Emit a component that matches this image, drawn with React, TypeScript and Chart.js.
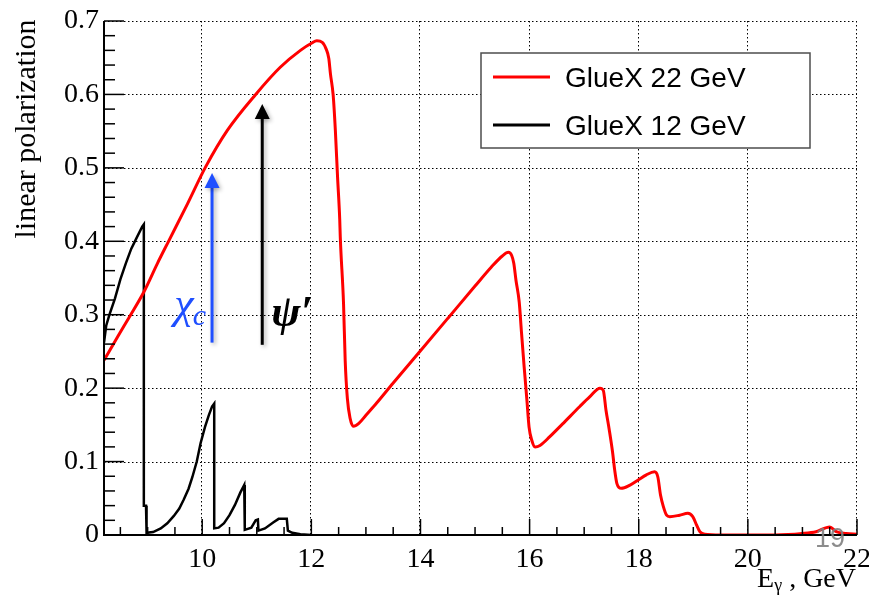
import React, { useEffect, useRef } from 'react';
import { Chart, registerables } from 'chart.js';

Chart.register(...registerables);

// ---- data ----
const seriesLabels = ['GlueX 22 GeV', 'GlueX 12 GeV'];
const seriesColors = ['#ff0000', '#000000'];

const gluex22Energy = [
  8.2, 8.45, 8.69, 8.93, 9.18, 9.39, 9.73, 10.06, 10.46, 10.98, 11.43, 11.8, 12.01, 12.1, 12.2,
  12.27, 12.32, 12.35, 12.4, 12.44, 12.48, 12.52, 12.53, 12.59, 12.62, 12.66, 12.71, 12.77, 12.87,
  13.0, 13.2, 13.5, 14.0, 14.5, 15.0, 15.3, 15.5, 15.61, 15.67, 15.71, 15.75, 15.81, 15.85,
  15.9, 15.95, 15.99, 16.04, 16.1, 16.19, 16.37, 16.6, 16.92, 17.1, 17.29, 17.35, 17.4, 17.46, 17.52,
  17.56, 17.6, 17.68, 17.84, 17.99, 18.14, 18.29, 18.35, 18.4, 18.45, 18.51, 18.57, 18.75, 18.9,
  18.99, 19.06, 19.12, 19.21, 19.5, 20.5, 21.0, 21.25, 21.5, 21.62, 21.8, 22.0,
];
const gluex22Pol = [
  0.238, 0.27, 0.3, 0.331, 0.37, 0.401, 0.451, 0.501, 0.551, 0.6, 0.637, 0.66, 0.67, 0.673, 0.671,
  0.662, 0.649, 0.628, 0.599, 0.551, 0.488, 0.43, 0.406, 0.315, 0.238, 0.186, 0.159, 0.148, 0.152,
  0.163, 0.18, 0.207, 0.251, 0.295, 0.339, 0.365, 0.38, 0.385, 0.381, 0.37, 0.347, 0.317, 0.277,
  0.229, 0.184, 0.147, 0.129, 0.12, 0.122, 0.134, 0.151, 0.175, 0.188, 0.2, 0.197, 0.17, 0.143, 0.113,
  0.088, 0.07, 0.0635, 0.068, 0.075, 0.082, 0.086, 0.079, 0.054, 0.039, 0.027, 0.025, 0.027, 0.0295,
  0.025, 0.0136, 0.0045, 0.001, 0.0, 0.0, 0.002, 0.0045, 0.011, 0.0045, 0.002, 0.001,
];

const gluex12Energy = [
  8.2, 8.24, 8.3, 8.4, 8.5, 8.6, 8.7, 8.8, 8.9, 8.93, 8.93, 8.97, 8.98, 9.1, 9.24, 9.36, 9.48, 9.58,
  9.66, 9.75, 9.82, 9.9, 9.97, 10.05, 10.12, 10.18, 10.22, 10.22, 10.3, 10.4, 10.5, 10.6, 10.7,
  10.77, 10.78, 10.9, 10.98, 11.02, 11.03, 11.15, 11.3, 11.4, 11.55, 11.57, 11.65, 11.8, 12.0,
];
const gluex12Pol = [
  0.262, 0.285, 0.3, 0.322, 0.348, 0.37, 0.39, 0.405, 0.42, 0.423, 0.04, 0.04, 0.003, 0.004, 0.009,
  0.016, 0.026, 0.036, 0.048, 0.063, 0.079, 0.1, 0.125, 0.147, 0.163, 0.175, 0.179, 0.009, 0.01,
  0.016, 0.027, 0.041, 0.058, 0.068, 0.007, 0.01, 0.02, 0.021, 0.006, 0.009, 0.017, 0.022, 0.022,
  0.006, 0.003, 0.001, 0.0,
];

const xTickValues = [10, 12, 14, 16, 18, 20, 22];
const yTickValues = [0, 0.1, 0.2, 0.3, 0.4, 0.5, 0.6, 0.7];
const xMinorStep = 0.5;
const yMinorStep = 0.02;
const xMin = 8.2;
const xMax = 22;
const yMin = 0;
const yMax = 0.7;

// threshold arrows: energy, start and tip polarization
const arrowLabels = ['χc', 'ψ′'];
const arrowEnergy = [10.18, 11.1];
const arrowFrom = [0.262, 0.259];
const arrowTo = [0.493, 0.587];
const arrowColors = ['#1f4fff', '#000000'];

const yTitle = 'linear polarization';
const pageNumber = '19';

const SERIF = "'Liberation Serif', 'Times New Roman', serif";
const SANS = "'Liberation Sans', Arial, sans-serif";

function fmtY(v: number) {
  return v === 0 ? '0' : v.toFixed(1);
}

const decorPlugin = {
  id: 'decor',
  beforeDatasetsDraw(chart: any) {
    const { ctx, chartArea: ca, scales } = chart;
    const x = scales.x;
    const y = scales.y;
    ctx.save();
    ctx.strokeStyle = '#000';
    ctx.lineWidth = 1;
    ctx.setLineDash([1.5, 2.5]);
    xTickValues.forEach((v) => {
      const px = Math.round(x.getPixelForValue(v)) - 0.5;
      ctx.beginPath();
      ctx.moveTo(px, ca.top);
      ctx.lineTo(px, ca.bottom);
      ctx.stroke();
    });
    yTickValues.forEach((v) => {
      if (v === 0) return;
      const py = Math.round(y.getPixelForValue(v)) + 0.5;
      ctx.beginPath();
      ctx.moveTo(ca.left, py);
      ctx.lineTo(ca.right, py);
      ctx.stroke();
    });
    ctx.restore();
  },
  afterDatasetsDraw(chart: any) {
    const { ctx, chartArea: ca, scales } = chart;
    const x = scales.x;
    const y = scales.y;
    ctx.save();

    // axes
    ctx.strokeStyle = '#000';
    ctx.lineWidth = 2;
    ctx.beginPath();
    ctx.moveTo(ca.left, ca.top);
    ctx.lineTo(ca.left, ca.bottom);
    ctx.lineTo(ca.right, ca.bottom);
    ctx.stroke();

    // inner ticks
    ctx.lineWidth = 1.5;
    const isMajor = (v: number, list: number[]) => list.some((t) => Math.abs(t - v) < 1e-6);
    for (let k = Math.ceil(xMin / xMinorStep); k * xMinorStep <= xMax + 1e-9; k++) {
      const v = k * xMinorStep;
      const px = x.getPixelForValue(v);
      const len = isMajor(v, xTickValues) ? 16 : 8;
      ctx.beginPath();
      ctx.moveTo(px, ca.bottom);
      ctx.lineTo(px, ca.bottom - len);
      ctx.stroke();
    }
    for (let k = Math.ceil(yMin / yMinorStep); k * yMinorStep <= yMax + 1e-9; k++) {
      const v = k * yMinorStep;
      const py = y.getPixelForValue(v);
      const len = isMajor(v, yTickValues) ? 20 : 11;
      ctx.beginPath();
      ctx.moveTo(ca.left, py);
      ctx.lineTo(ca.left + len, py);
      ctx.stroke();
    }

    // arrows
    arrowEnergy.forEach((e, i) => {
      const px = x.getPixelForValue(e);
      const p0 = y.getPixelForValue(arrowFrom[i]);
      const p1 = y.getPixelForValue(arrowTo[i]);
      ctx.save();
      ctx.shadowColor = 'rgba(0,0,0,0.3)';
      ctx.shadowBlur = 4;
      ctx.shadowOffsetX = 2;
      ctx.shadowOffsetY = 2;
      ctx.strokeStyle = arrowColors[i];
      ctx.fillStyle = arrowColors[i];
      ctx.lineWidth = 3;
      ctx.beginPath();
      ctx.moveTo(px, p0);
      ctx.lineTo(px, p1 + 12);
      ctx.stroke();
      ctx.beginPath();
      ctx.moveTo(px, p1);
      ctx.lineTo(px - 7.5, p1 + 15);
      ctx.lineTo(px + 7.5, p1 + 15);
      ctx.closePath();
      ctx.fill();
      ctx.restore();
    });

    // arrow labels
    {
      const px = x.getPixelForValue(arrowEnergy[0]);
      ctx.fillStyle = arrowColors[0];
      ctx.textBaseline = 'alphabetic';
      ctx.textAlign = 'left';
      const main = arrowLabels[0].slice(0, 1);
      const sub = arrowLabels[0].slice(1);
      ctx.font = `italic 44px ${SERIF}`;
      const wMain = ctx.measureText(main).width;
      ctx.font = `italic 30px ${SERIF}`;
      const wSub = ctx.measureText(sub).width;
      const x0 = px - 5 - wMain - wSub;
      ctx.font = `italic 44px ${SERIF}`;
      ctx.fillText(main, x0, 318);
      ctx.font = `italic 30px ${SERIF}`;
      ctx.fillText(sub, x0 + wMain - 1, 325);
    }
    {
      const px = x.getPixelForValue(arrowEnergy[1]);
      ctx.fillStyle = arrowColors[1];
      ctx.font = `italic bold 44px ${SERIF}`;
      ctx.textAlign = 'left';
      ctx.fillText(arrowLabels[1], px + 9, 326);
    }

    // legend
    ctx.fillStyle = '#fff';
    ctx.fillRect(481, 53, 329, 95);
    ctx.strokeStyle = '#4d4d4d';
    ctx.lineWidth = 1.5;
    ctx.strokeRect(481, 53, 329, 95);
    seriesLabels.forEach((lab, i) => {
      const cy = 77 + i * 48;
      ctx.strokeStyle = seriesColors[i];
      ctx.lineWidth = 3;
      ctx.beginPath();
      ctx.moveTo(493, cy);
      ctx.lineTo(550, cy);
      ctx.stroke();
      ctx.fillStyle = '#000';
      ctx.font = `28px ${SANS}`;
      ctx.textAlign = 'left';
      ctx.textBaseline = 'alphabetic';
      ctx.fillText(lab, 565, cy + 10);
    });

    // y title
    ctx.save();
    ctx.translate(27, 129);
    ctx.rotate(-Math.PI / 2);
    ctx.fillStyle = '#000';
    ctx.font = `30px ${SERIF}`;
    ctx.textAlign = 'center';
    ctx.textBaseline = 'middle';
    ctx.fillText(yTitle, 0, 0);
    ctx.restore();

    // x title: E_gamma , GeV
    {
      ctx.fillStyle = '#000';
      ctx.textAlign = 'left';
      ctx.textBaseline = 'alphabetic';
      ctx.font = `28px ${SERIF}`;
      const wE = ctx.measureText('E').width;
      const rest = ' , GeV';
      const wRest = ctx.measureText(rest).width;
      ctx.font = `18px ${SERIF}`;
      const wG = ctx.measureText('γ').width;
      const right = ca.right - 1;
      const x0 = right - wRest - wG - wE;
      ctx.font = `28px ${SERIF}`;
      ctx.fillText('E', x0, 587);
      ctx.font = `18px ${SERIF}`;
      ctx.fillText('γ', x0 + wE, 591);
      ctx.font = `28px ${SERIF}`;
      ctx.fillText(rest, x0 + wE + wG, 587);
    }

    // page number
    ctx.fillStyle = 'rgba(128,128,128,0.9)';
    ctx.font = `27px ${SANS}`;
    ctx.textAlign = 'left';
    ctx.fillText(pageNumber, 815, 547);

    ctx.restore();
  },
};

export default function App() {
  const canvasRef = useRef<HTMLCanvasElement | null>(null);

  useEffect(() => {
    const canvas = canvasRef.current;
    if (!canvas) return;
    const chart = new Chart(canvas, {
      type: 'line',
      data: {
        datasets: [
          {
            label: seriesLabels[0],
            data: gluex22Energy.map((e, i) => ({ x: e, y: gluex22Pol[i] })),
            borderColor: seriesColors[0],
            borderWidth: 3,
            pointRadius: 0,
            cubicInterpolationMode: 'monotone',
            fill: false,
          },
          {
            label: seriesLabels[1],
            data: gluex12Energy.map((e, i) => ({ x: e, y: gluex12Pol[i] })),
            borderColor: seriesColors[1],
            borderWidth: 2.5,
            pointRadius: 0,
            tension: 0,
            fill: false,
          },
        ],
      },
      options: {
        responsive: false,
        animation: false,
        layout: { padding: { top: 21, right: 12, left: 0, bottom: 0 } },
        plugins: {
          legend: { display: false },
          tooltip: { enabled: false },
          title: { display: false },
        },
        scales: {
          x: {
            type: 'linear',
            min: xMin,
            max: xMax,
            grid: { display: false, drawTicks: false },
            border: { display: false },
            afterBuildTicks: (scale: any) => {
              scale.ticks = xTickValues.map((v) => ({ value: v }));
            },
            afterFit: (scale: any) => {
              scale.height = 61;
              scale.paddingLeft = 0;
              scale.paddingRight = 0;
            },
            ticks: {
              autoSkip: false,
              maxRotation: 0,
              padding: 8,
              color: '#000',
              font: { family: SERIF, size: 28 },
              callback: (v: any) => String(v),
            },
          },
          y: {
            type: 'linear',
            min: yMin,
            max: yMax,
            grid: { display: false, drawTicks: false },
            border: { display: false },
            afterBuildTicks: (scale: any) => {
              scale.ticks = yTickValues.map((v) => ({ value: v }));
            },
            afterFit: (scale: any) => {
              scale.width = 104;
              scale.paddingTop = 0;
              scale.paddingBottom = 0;
            },
            ticks: {
              autoSkip: false,
              padding: 5,
              color: '#000',
              font: { family: SERIF, size: 28 },
              callback: (v: any) => fmtY(Number(v)),
            },
          },
        },
      },
      plugins: [decorPlugin],
    });
    return () => chart.destroy();
  }, []);

  return (
    <div style={{ position: 'absolute', left: 0, top: 0, width: 869, height: 596, background: '#fff' }}>
      <canvas ref={canvasRef} width={869} height={596} style={{ display: 'block' }} />
    </div>
  );
}
